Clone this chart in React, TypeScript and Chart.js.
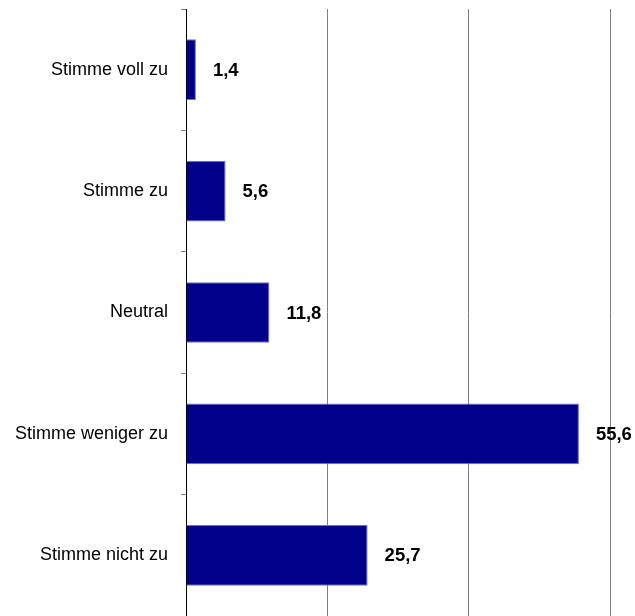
import React, { useEffect, useRef } from "react";
import { Chart, registerables } from "chart.js";

Chart.register(...registerables);

const categories = [
  "Stimme voll zu",
  "Stimme zu",
  "Neutral",
  "Stimme weniger zu",
  "Stimme nicht zu",
];
const values = [1.4, 5.6, 11.8, 55.6, 25.7];
const valueLabels = ["1,4", "5,6", "11,8", "55,6", "25,7"];
const axisMin = 0;
const axisMax = 60;
const axisStep = 20;

const FONT = "'Liberation Sans', Arial, sans-serif";

const valueLabelPlugin = {
  id: "valueLabels",
  afterDatasetsDraw(chart: any) {
    const ctx = chart.ctx;
    const meta = chart.getDatasetMeta(0);
    ctx.save();
    ctx.font = `bold 18.5px ${FONT}`;
    ctx.fillStyle = "#000000";
    ctx.textAlign = "left";
    ctx.textBaseline = "middle";
    meta.data.forEach((bar: any, i: number) => {
      ctx.fillText(valueLabels[i], bar.x + 17, bar.y + 1);
    });
    ctx.restore();
  },
};

export default function App() {
  const ref = useRef<HTMLCanvasElement>(null);
  useEffect(() => {
    if (!ref.current) return;
    const chart = new Chart(ref.current, {
      type: "bar",
      data: {
        labels: categories,
        datasets: [
          {
            data: values,
            backgroundColor: "#00008B",
            borderColor: "#7070c8",
            borderWidth: 1,
            barPercentage: 0.5,
            categoryPercentage: 1,
          },
        ],
      },
      options: {
        indexAxis: "y",
        responsive: false,
        animation: false,
        events: [],
        layout: { padding: { top: 9, right: 25, bottom: 0, left: 0 } },
        plugins: {
          legend: { display: false },
          tooltip: { enabled: false },
        },
        scales: {
          x: {
            min: axisMin,
            max: axisMax,
            ticks: { display: false, stepSize: axisStep },
            grid: {
              drawTicks: false,
              color: "#808080",
              lineWidth: 1,
            },
            border: { display: false },
            afterFit: (scale: any) => {
              scale.height = 0;
              scale.paddingLeft = 0;
              scale.paddingRight = 0;
            },
          },
          y: {
            ticks: {
              color: "#000000",
              font: { family: FONT, size: 18 },
              padding: 13,
            },
            grid: {
              drawOnChartArea: false,
              drawTicks: true,
              tickLength: 5,
              color: "#808080",
              offset: true,
            },
            border: { display: true, color: "#000000", width: 1 },
            afterFit: (scale: any) => {
              scale.width = 186;
              scale.paddingTop = 0;
              scale.paddingBottom = 0;
            },
          },
        },
      },
      plugins: [valueLabelPlugin],
    });
    return () => chart.destroy();
  }, []);
  return (
    <div style={{ position: "fixed", left: 0, top: 0, width: 635, height: 616, background: "#fff" }}>
      <canvas ref={ref} width={635} height={616} />
    </div>
  );
}
